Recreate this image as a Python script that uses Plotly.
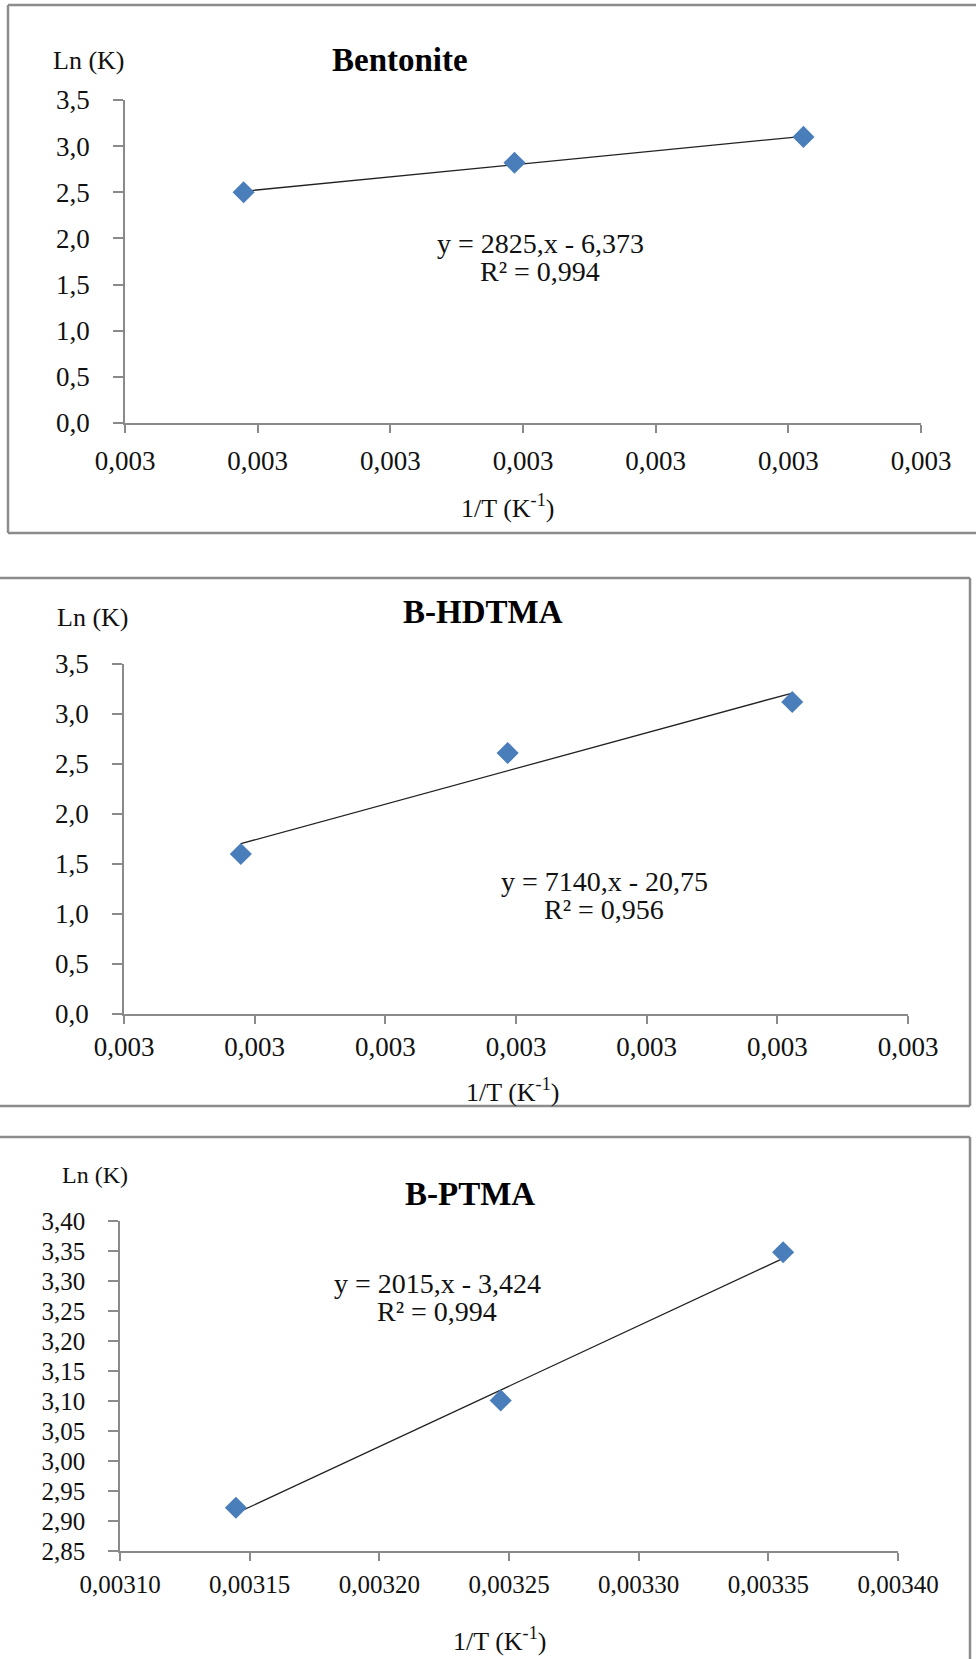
import plotly.graph_objects as go

# ---- data -------------------------------------------------------------
inv_T = [0.0031447, 0.0032468, 0.0033557]          # 1/T for 318, 308, 298 K

lnK_bentonite = [2.50, 2.82, 3.10]
lnK_hdtma = [1.60, 2.61, 3.12]
lnK_ptma = [2.922, 3.101, 3.348]

panel_titles = ["Bentonite", "B-HDTMA", "B-PTMA"]
fit_slopes = [2825, 7140, 2015]
fit_intercepts = [-6.373, -20.75, -3.424]
fit_r2 = ["0,994", "0,956", "0,994"]

x_ticks = [0.00310, 0.00315, 0.00320, 0.00325, 0.00330, 0.00335, 0.00340]
y_ticks_12 = [0.0, 0.5, 1.0, 1.5, 2.0, 2.5, 3.0, 3.5]
y_ticks_3 = [2.85, 2.90, 2.95, 3.00, 3.05, 3.10, 3.15, 3.20, 3.25, 3.30, 3.35, 3.40]

# ---- page geometry (pixels) ------------------------------------------
W, H = 976, 1659
FONT = "Liberation Serif"
AXIS_GREY = "#8a8a8a"
FRAME_GREY = "#8c8c8c"
MARKER_BLUE = "#4A7EBB"


def px(x):
    return x / W


def py(y):
    return 1 - y / H


def fmt_num(v):
    return ("%g" % abs(v)).replace(".", ",")


def eq_text(slope, intercept):
    sign = "-" if intercept < 0 else "+"
    return "y = %s,x %s %s" % (fmt_num(slope), sign, fmt_num(intercept))


panels = [
    dict(y=lnK_bentonite, xdom=(125, 921), ydom=(100, 423), yrange=[0, 3.5],
         yticks=y_ticks_12, yfmt=".1f", xfmt=".3f", tsize=27, xstand=5,
         lnk=(88, 60, 26), title=(400, 60), eq=(540, 243), xt=(508, 506)),
    dict(y=lnK_hdtma, xdom=(124, 908), ydom=(664, 1014), yrange=[0, 3.5],
         yticks=y_ticks_12, yfmt=".1f", xfmt=".3f", tsize=27, xstand=0,
         lnk=(92, 617, 26), title=(483, 612), eq=(604, 881), xt=(512, 1090)),
    dict(y=lnK_ptma, xdom=(120, 898), ydom=(1221, 1551), yrange=[2.85, 3.40],
         yticks=y_ticks_3, yfmt=".2f", xfmt=".5f", tsize=25, xstand=2,
         lnk=(95, 1175, 24), title=(470, 1194), eq=(437, 1283), xt=(500, 1639)),
]

fig = go.Figure()
annotations = []

for i, p in enumerate(panels):
    n = "" if i == 0 else str(i + 1)
    xa, ya = "x" + n, "y" + n

    # trendline from the fitted equation, across the data range
    x0, x1 = min(inv_T), max(inv_T)
    s, b = fit_slopes[i], fit_intercepts[i]
    fig.add_trace(go.Scatter(
        x=[x0, x1], y=[s * x0 + b, s * x1 + b], mode="lines",
        line=dict(color="#222222", width=1.3),
        xaxis=xa, yaxis=ya, showlegend=False, hoverinfo="skip"))

    fig.add_trace(go.Scatter(
        x=inv_T, y=p["y"], mode="markers",
        marker=dict(symbol="diamond", size=17, color=MARKER_BLUE,
                    line=dict(width=0)),
        xaxis=xa, yaxis=ya, showlegend=False))

    tick_font = dict(family=FONT, size=p["tsize"], color="#111111")
    fig.layout["xaxis" + n] = dict(
        domain=[px(p["xdom"][0]), px(p["xdom"][1])],
        range=[x_ticks[0], x_ticks[-1]], anchor=ya, automargin=False,
        tickmode="array", tickvals=x_ticks, tickformat=p["xfmt"],
        showline=True, linecolor=AXIS_GREY, linewidth=1.5,
        ticks="outside", ticklen=8, tickcolor=AXIS_GREY, tickwidth=1.5,
        showgrid=False, zeroline=False, ticklabelstandoff=p["xstand"],
        tickfont=tick_font)
    fig.layout["yaxis" + n] = dict(
        domain=[py(p["ydom"][1]), py(p["ydom"][0])],
        range=p["yrange"], anchor=xa, automargin=False,
        tickmode="array", tickvals=p["yticks"], tickformat=p["yfmt"],
        showline=True, linecolor=AXIS_GREY, linewidth=1.5,
        ticks="outside", ticklen=10, tickcolor=AXIS_GREY, tickwidth=1.5,
        showgrid=False, zeroline=False, ticklabelstandoff=18,
        tickfont=tick_font)

    lx, ly, lsize = p["lnk"]
    annotations.append(dict(text="Ln (K)", x=px(lx), y=py(ly), xref="paper", yref="paper",
                            showarrow=False, xanchor="center", yanchor="middle",
                            font=dict(family=FONT, size=lsize, color="#111111")))
    tx, ty = p["title"]
    annotations.append(dict(text="<b>%s</b>" % panel_titles[i], x=px(tx), y=py(ty),
                            xref="paper", yref="paper", showarrow=False,
                            xanchor="center", yanchor="middle",
                            font=dict(family=FONT, size=33, color="#000000")))
    ex, ey = p["eq"]
    annotations.append(dict(text=eq_text(s, b), x=px(ex), y=py(ey),
                            xref="paper", yref="paper", showarrow=False,
                            xanchor="center", yanchor="middle",
                            font=dict(family=FONT, size=28, color="#111111")))
    annotations.append(dict(text="R² = %s" % fit_r2[i], x=px(ex), y=py(ey + 28),
                            xref="paper", yref="paper", showarrow=False,
                            xanchor="center", yanchor="middle",
                            font=dict(family=FONT, size=28, color="#111111")))
    xtx, xty = p["xt"]
    annotations.append(dict(text="1/T (K<sup>-1</sup>)", x=px(xtx), y=py(xty),
                            xref="paper", yref="paper", showarrow=False,
                            xanchor="center", yanchor="middle",
                            font=dict(family=FONT, size=26, color="#111111")))

# chart frames
frame = dict(color=FRAME_GREY, width=2.5)


def frame_line(x0, y0, x1, y1):
    return dict(type="line", xref="paper", yref="paper",
                x0=px(x0), x1=px(x1), y0=py(y0), y1=py(y1), line=frame)


shapes = [
    # first chart: open on the right
    frame_line(8, 5, 976, 5),
    frame_line(8, 5, 8, 533),
    frame_line(8, 533, 976, 533),
    # second chart
    frame_line(0, 578, 970, 578),
    frame_line(970, 578, 970, 1106),
    frame_line(0, 1106, 970, 1106),
    # third chart
    frame_line(0, 1137, 970, 1137),
    frame_line(970, 1137, 970, 1659),
]

fig.update_layout(
    width=W, height=H, margin=dict(l=0, r=0, t=0, b=0),
    paper_bgcolor="white", plot_bgcolor="white",
    separators=", ", showlegend=False,
    annotations=annotations, shapes=shapes,
)

fig.write_html("out.html")
